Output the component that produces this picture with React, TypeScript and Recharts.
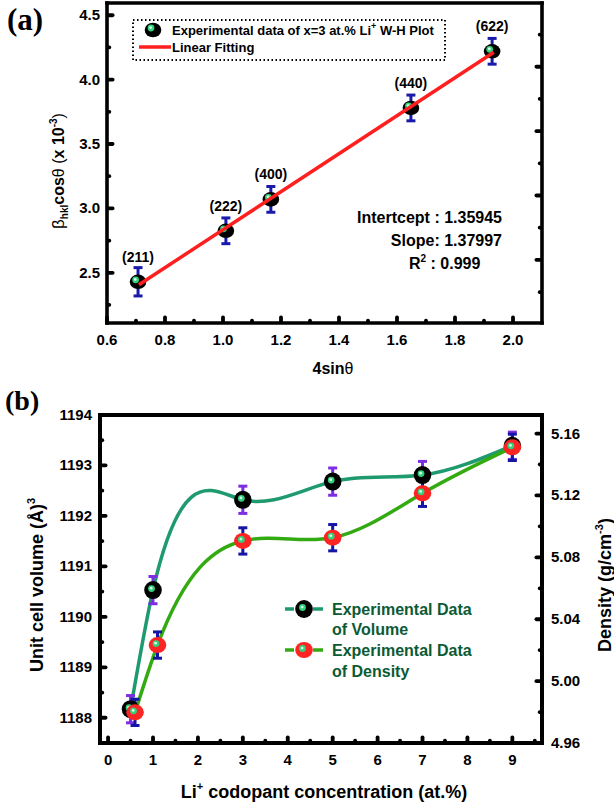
import React from 'react';
import { ComposedChart, Scatter, Line, XAxis, YAxis, ErrorBar, Legend, ReferenceDot } from 'recharts';

const FONT = '"Liberation Sans", Arial, sans-serif';

// ---------- Panel (a): Williamson-Hall plot ----------
const whHkl = ['(211)', '(222)', '(400)', '(440)', '(622)'];
const whX = [0.707, 1.01, 1.165, 1.648, 1.928];
const whY = [2.43, 2.826, 3.07, 3.78, 4.22];
const whErr = [0.11, 0.1, 0.1, 0.1, 0.1];
const fitX = [0.71, 1.934];
const fitY = [2.407, 4.213];
const aXDomain = [0.6, 2.1];
const aYDomain = [2.11, 4.595];
const aXMajor = [0.6, 0.8, 1.0, 1.2, 1.4, 1.6, 1.8, 2.0];
const aXMinor = [0.7, 0.9, 1.1, 1.3, 1.5, 1.7, 1.9];
const aTopMajor = [0.9, 1.2, 1.5, 1.8];
const aTopMinor = [0.75, 1.05, 1.35, 1.65, 1.95];
const aYMajor = [2.5, 3.0, 3.5, 4.0, 4.5];
const aYMinor = [2.25, 2.75, 3.25, 3.75, 4.25];
const aRMajor = [2.6, 3.1, 3.6, 4.1];
const aRMinor = [2.35, 2.85, 3.35, 3.85, 4.35];

// ---------- Panel (b): volume & density ----------
const volX = [0.5, 1, 3, 5, 7, 9];
const volY = [1188.17, 1190.53, 1192.32, 1192.68, 1192.81, 1193.39];
const volErr = [0.27, 0.27, 0.27, 0.27, 0.27, 0.27];
const denX = [0.6, 1.1, 3, 5, 7, 9];
const denY = [4.9798, 5.0233, 5.0906, 5.0927, 5.1214, 5.1511];
const denErr = [0.0085, 0.0085, 0.0085, 0.0085, 0.0085, 0.0085];
const bXDomain = [-0.18, 9.66];
const bLDomain = [1187.5, 1194];
const bRDomain = [4.96, 5.172];
const bXMajor = [0, 1, 2, 3, 4, 5, 6, 7, 8, 9];
const bXMinor = [0.5, 1.5, 2.5, 3.5, 4.5, 5.5, 6.5, 7.5, 8.5, 9.5];
const bLMajor = [1188, 1189, 1190, 1191, 1192, 1193, 1194];
const bLMinor = [1188.5, 1189.5, 1190.5, 1191.5, 1192.5, 1193.5];
const bRMajor = [4.96, 5.0, 5.04, 5.08, 5.12, 5.16];
const bRMinor = [4.98, 5.02, 5.06, 5.1, 5.14];

const whData = whX.map((x, i) => ({ x, y: whY[i], err: whErr[i], hkl: whHkl[i] }));
const fitData = fitX.map((x, i) => ({ x, y: fitY[i] }));
const volData = volX.map((x, i) => ({ x, y: volY[i], err: volErr[i] }));
const denData = denX.map((x, i) => ({ x, y: denY[i], err: denErr[i] }));

// natural cubic spline y(x) curve factory (d3-shape compatible)
function naturalX(context: any) {
  let xs: number[] = [];
  let ys: number[] = [];
  return {
    areaStart() {},
    areaEnd() {},
    lineStart() { xs = []; ys = []; },
    point(x: number, y: number) { xs.push(+x); ys.push(+y); },
    lineEnd() {
      const n = xs.length;
      if (n === 0) return;
      context.moveTo(xs[0], ys[0]);
      if (n === 1) return;
      if (n === 2) { context.lineTo(xs[1], ys[1]); return; }
      const h: number[] = [];
      const d: number[] = [];
      for (let i = 0; i < n - 1; i++) { h[i] = xs[i + 1] - xs[i]; d[i] = (ys[i + 1] - ys[i]) / h[i]; }
      const M = new Array(n).fill(0);
      const cp: number[] = [];
      const rp: number[] = [];
      for (let i = 1; i < n - 1; i++) {
        const a = h[i - 1], b = 2 * (h[i - 1] + h[i]), c = h[i], r = 6 * (d[i] - d[i - 1]);
        const den = b - (i > 1 ? a * cp[i - 1] : 0);
        cp[i] = c / den;
        rp[i] = (r - (i > 1 ? a * rp[i - 1] : 0)) / den;
      }
      for (let i = n - 2; i >= 1; i--) M[i] = rp[i] - cp[i] * M[i + 1];
      for (let i = 0; i < n - 1; i++) {
        const m0 = d[i] - (h[i] * (2 * M[i] + M[i + 1])) / 6;
        const m1 = d[i] + (h[i] * (M[i] + 2 * M[i + 1])) / 6;
        context.bezierCurveTo(
          xs[i] + h[i] / 3, ys[i] + (m0 * h[i]) / 3,
          xs[i + 1] - h[i] / 3, ys[i + 1] - (m1 * h[i]) / 3,
          xs[i + 1], ys[i + 1]
        );
      }
    },
  };
}

type Side = 'left' | 'right' | 'top' | 'bottom';

// value labels for the outer axes
function makeLabel(side: Side, fmt: (v: number) => string, fs = 15) {
  return (p: any) => {
    const x = Number(p.x);
    const y = Number(p.y);
    const v = Number(p.payload.value);
    let ty = y + 5;
    let anchor: any = 'middle';
    if (side === 'left') anchor = 'end';
    else if (side === 'right') anchor = 'start';
    else ty = y + 5.5;
    return (
      <text x={x} y={ty} textAnchor={anchor} fontFamily={FONT} fontWeight="bold" fontSize={fs} fill="#000" stroke="none">
        {fmt(v)}
      </text>
    );
  };
}

// inward tick mark shape, placed at an axis position by ReferenceDot
function markShape(side: Side, major: boolean) {
  return (p: any) => {
    const cx = Number(p.cx);
    const cy = Number(p.cy);
    if (!isFinite(cx) || !isFinite(cy)) return null;
    const len = major ? 7.5 : 4.2;
    const th = 3.8;
    let x = 0, y = 0, w = 0, h = 0;
    if (side === 'left') { x = cx; y = cy - th / 2; w = len; h = th; }
    else if (side === 'right') { x = cx - len; y = cy - th / 2; w = len; h = th; }
    else if (side === 'bottom') { x = cx - th / 2; y = cy - len; w = th; h = len; }
    else { x = cx - th / 2; y = cy; w = th; h = len; }
    return <rect x={x} y={y} width={w} height={h} rx={1.8} ry={1.8} fill="#000" />;
  };
}

function tickMarks(xId: string, yId: string, side: Side, majors: number[], minors: number[], fixed: number) {
  const all = [...majors.map((v) => [v, 1]), ...minors.map((v) => [v, 0])];
  return all.map(([v, mj]) => {
    const vertical = side === 'left' || side === 'right';
    return (
      <ReferenceDot key={`${xId}${yId}${side}${v}`} xAxisId={xId} yAxisId={yId}
        x={vertical ? fixed : v} y={vertical ? v : fixed} r={3} ifOverflow="visible"
        shape={markShape(side, mj === 1)} />
    );
  });
}

const axA = { stroke: '#000', strokeWidth: 3.6, strokeLinecap: 'square' as const };
const axB = { stroke: '#000', strokeWidth: 4, strokeLinecap: 'square' as const };

const Highlight = ({ cx, cy }: { cx: number; cy: number }) => (
  <g>
    <circle cx={cx} cy={cy} r={3.4} fill="#35d07c" />
    <circle cx={cx - 0.4} cy={cy - 0.4} r={1.4} fill="#d2fde6" />
  </g>
);

const WhMarker = (p: any) => {
  const { cx, cy, payload } = p;
  if (cx == null || cy == null) return null;
  return (
    <g>
      <ellipse cx={cx} cy={cy} rx={8.3} ry={7.3} fill="#000" />
      <Highlight cx={cx - 2.4} cy={cy - 2} />
      <text x={cx} y={cy - 20} textAnchor="middle" fontFamily={FONT} fontWeight="bold" fontSize={14} fill="#000">
        {payload.hkl}
      </text>
    </g>
  );
};

const VolMarker = (p: any) => {
  const { cx, cy } = p;
  if (cx == null || cy == null) return null;
  return (
    <g>
      <ellipse cx={cx} cy={cy} rx={8.8} ry={9} fill="#000" />
      <Highlight cx={cx - 1.5} cy={cy - 1.5} />
    </g>
  );
};

const DenMarker = (p: any) => {
  const { cx, cy } = p;
  if (cx == null || cy == null) return null;
  return (
    <g>
      <ellipse cx={cx} cy={cy} rx={8.8} ry={8} fill="#ff2424" />
      <Highlight cx={cx - 1.5} cy={cy - 1.5} />
    </g>
  );
};

const TopLegend = () => (
  <svg width={316} height={44} style={{ display: 'block' }}>
    <rect x={1} y={1} width={312} height={40} fill="none" stroke="#000" strokeWidth={2} strokeDasharray="1.5 2.5" />
    <ellipse cx={21} cy={11} rx={8.3} ry={7.3} fill="#000" />
    <Highlight cx={19} cy={9} />
    <text x={40} y={16} fontFamily={FONT} fontWeight="bold" fontSize={13} fill="#000">
      Experimental data of x=3 at.% Li<tspan fontSize={9} dy={-6}>+</tspan><tspan dy={6}> W-H Plot</tspan>
    </text>
    <line x1={7} y1={28} x2={39} y2={28} stroke="#ff1f1f" strokeWidth={3.5} />
    <text x={40} y={33} fontFamily={FONT} fontWeight="bold" fontSize={13} fill="#000">Linear Fitting</text>
  </svg>
);

const BottomLegend = () => (
  <svg width={210} height={92} style={{ display: 'block' }}>
    <line x1={5} y1={14} x2={14} y2={14} stroke="#1e9a6e" strokeWidth={3.5} />
    <line x1={33} y1={14} x2={43} y2={14} stroke="#1e9a6e" strokeWidth={3.5} />
    <ellipse cx={24} cy={14} rx={8.8} ry={9} fill="#000" />
    <Highlight cx={22.5} cy={12.5} />
    <text x={52} y={20} fontFamily={FONT} fontWeight="bold" fontSize={16} fill="#0b5a34">Experimental Data</text>
    <text x={52} y={40} fontFamily={FONT} fontWeight="bold" fontSize={16} fill="#0b5a34">of Volume</text>
    <line x1={5} y1={55} x2={14} y2={55} stroke="#33aa11" strokeWidth={3.5} />
    <line x1={33} y1={55} x2={43} y2={55} stroke="#33aa11" strokeWidth={3.5} />
    <ellipse cx={24} cy={55} rx={8.8} ry={8} fill="#ff2424" />
    <Highlight cx={22.5} cy={53.5} />
    <text x={52} y={61} fontFamily={FONT} fontWeight="bold" fontSize={16} fill="#0b5a34">Experimental Data</text>
    <text x={52} y={82} fontFamily={FONT} fontWeight="bold" fontSize={16} fill="#0b5a34">of Density</text>
  </svg>
);

const f1 = (v: number) => v.toFixed(1);
const f0 = (v: number) => String(v);
const f2 = (v: number) => v.toFixed(2);

export default function App() {
  return (
    <div style={{ position: 'absolute', left: 0, top: 0, width: 614, height: 807, background: '#fff', overflow: 'hidden' }}>
      <div style={{ position: 'absolute', left: 0, top: 0 }}>
        <ComposedChart width={614} height={380} margin={{ top: 1, right: 42, bottom: 17, left: 57 }}>
          <XAxis xAxisId="b" type="number" dataKey="x" domain={aXDomain} allowDataOverflow
            ticks={aXMajor} interval={0} tickSize={0} tickMargin={16} height={40}
            axisLine={axA} tickLine={false} tick={makeLabel('bottom', f1)} />
          <XAxis xAxisId="t" orientation="top" type="number" domain={aXDomain} allowDataOverflow
            ticks={aTopMajor} interval={0} tickSize={0} tickMargin={0} height={2}
            axisLine={axA} tickLine={false} tick={false} />
          <YAxis yAxisId="l" type="number" dataKey="y" domain={aYDomain} allowDataOverflow
            ticks={aYMajor} interval={0} tickSize={0} tickMargin={7} width={50}
            axisLine={axA} tickLine={false} tick={makeLabel('left', f1)} />
          <YAxis yAxisId="r" orientation="right" type="number" domain={aYDomain} allowDataOverflow
            ticks={aRMajor} interval={0} tickSize={0} tickMargin={0} width={30}
            axisLine={axA} tickLine={false} tick={false} />
          {tickMarks('b', 'l', 'bottom', aXMajor, aXMinor, aYDomain[0])}
          {tickMarks('t', 'l', 'top', aTopMajor, aTopMinor, aYDomain[1])}
          {tickMarks('b', 'l', 'left', aYMajor, aYMinor, aXDomain[0])}
          {tickMarks('b', 'r', 'right', aRMajor, aRMinor, aXDomain[1])}
          <Scatter xAxisId="b" yAxisId="l" data={whData} dataKey="y" shape={WhMarker} isAnimationActive={false}>
            <ErrorBar dataKey="err" direction="y" width={4.5} strokeWidth={3} stroke="#1a1aaa" />
          </Scatter>
          <Line xAxisId="b" yAxisId="l" data={fitData} dataKey="y" type="linear" stroke="#ff1f1f"
            strokeWidth={3.5} dot={false} activeDot={false} isAnimationActive={false} zIndex={700} />
          <Legend layout="horizontal" verticalAlign="middle" align="center" content={() => <TopLegend />}
            wrapperStyle={{ left: 132, top: 19, width: 316, height: 44 }} />
        </ComposedChart>
      </div>
      <div style={{ position: 'absolute', left: 0, top: 380 }}>
        <ComposedChart width={614} height={427} margin={{ top: 33, right: 22, bottom: 24, left: 50 }}>
          <XAxis xAxisId="b" type="number" dataKey="x" domain={bXDomain} allowDataOverflow
            ticks={bXMajor} interval={0} tickSize={0} tickMargin={16} height={40}
            axisLine={axB} tickLine={false} tick={makeLabel('bottom', f0)} />
          <XAxis xAxisId="t" orientation="top" type="number" domain={bXDomain} allowDataOverflow
            ticks={bXMajor} interval={0} tickSize={0} tickMargin={0} height={2}
            axisLine={axB} tickLine={false} tick={false} />
          <YAxis yAxisId="l" type="number" dataKey="y" domain={bLDomain} allowDataOverflow
            ticks={bLMajor} interval={0} tickSize={0} tickMargin={8} width={50}
            axisLine={axB} tickLine={false} tick={makeLabel('left', f0)} />
          <YAxis yAxisId="r" orientation="right" type="number" dataKey="y" domain={bRDomain} allowDataOverflow
            ticks={bRMajor} interval={0} tickSize={0} tickMargin={9} width={50}
            axisLine={axB} tickLine={false} tick={makeLabel('right', f2)} />
          {tickMarks('b', 'l', 'bottom', bXMajor, bXMinor, bLDomain[0])}
          {tickMarks('t', 'l', 'top', bXMajor, bXMinor, bLDomain[1])}
          {tickMarks('b', 'l', 'left', bLMajor, bLMinor, bXDomain[0])}
          {tickMarks('b', 'r', 'right', bRMajor, bRMinor, bXDomain[1])}
          <Line xAxisId="b" yAxisId="l" data={volData} dataKey="y" type={naturalX as any} stroke="#1e9a6e"
            strokeWidth={3.5} dot={false} activeDot={false} isAnimationActive={false} />
          <Line xAxisId="b" yAxisId="r" data={denData} dataKey="y" type={naturalX as any} stroke="#33aa11"
            strokeWidth={3.5} dot={false} activeDot={false} isAnimationActive={false} />
          <Scatter xAxisId="b" yAxisId="l" data={volData} dataKey="y" shape={VolMarker} isAnimationActive={false}>
            <ErrorBar dataKey="err" direction="y" width={4.5} strokeWidth={3} stroke="#7d2ee0" />
          </Scatter>
          <Scatter xAxisId="b" yAxisId="r" data={denData} dataKey="y" shape={DenMarker} isAnimationActive={false}>
            <ErrorBar dataKey="err" direction="y" width={4.5} strokeWidth={3} stroke="#1515a5" />
          </Scatter>
          <Legend layout="horizontal" verticalAlign="middle" align="center" content={() => <BottomLegend />}
            wrapperStyle={{ left: 280, top: 215, width: 210, height: 92 }} />
        </ComposedChart>
      </div>
      <svg width={614} height={807} style={{ position: 'absolute', left: 0, top: 0, pointerEvents: 'none' }}>
        <text x={7} y={30} fontFamily='"Liberation Serif", "Times New Roman", serif' fontWeight="bold" fontSize={31}>(a)</text>
        <text x={5} y={410} fontFamily='"Liberation Serif", "Times New Roman", serif' fontWeight="bold" fontSize={28}>(b)</text>
        <text x={64} y={171} transform="rotate(-90 64 171)" textAnchor="middle" fontFamily={FONT} fontWeight="bold" fontSize={16}>
          <tspan fontWeight="normal" fontSize={17}>β</tspan>
          <tspan fontSize={10} dy={4}>hkl</tspan>
          <tspan dy={-4}>cos</tspan>
          <tspan fontWeight="normal">θ (</tspan>
          <tspan>x 10</tspan>
          <tspan fontSize={10} dy={-7}>-3</tspan>
          <tspan dy={7} fontWeight="normal">)</tspan>
        </text>
        <text x={333} y={374} textAnchor="middle" fontFamily={FONT} fontWeight="bold" fontSize={16}>
          4sin<tspan fontWeight="normal">θ</tspan>
        </text>
        <text x={502} y={223} textAnchor="end" fontFamily={FONT} fontWeight="bold" fontSize={16}>Intertcept : 1.35945</text>
        <text x={502} y={246} textAnchor="end" fontFamily={FONT} fontWeight="bold" fontSize={16}>Slope: 1.37997</text>
        <text x={409} y={269} fontFamily={FONT} fontWeight="bold" fontSize={16}>
          R<tspan fontSize={10} dy={-7}>2</tspan><tspan dy={7}> : 0.999</tspan>
        </text>
        <text x={43} y={585} transform="rotate(-90 43 585)" textAnchor="middle" fontFamily={FONT} fontWeight="bold" fontSize={18}>
          Unit cell volume (Å)<tspan fontSize={11} dy={-8}>3</tspan>
        </text>
        <text x={611} y={585} transform="rotate(-90 611 585)" textAnchor="middle" fontFamily={FONT} fontWeight="bold" fontSize={18}>
          Density (g/cm<tspan fontSize={11} dy={-8}>-3</tspan><tspan dy={8}>)</tspan>
        </text>
        <text x={324} y={798} textAnchor="middle" fontFamily={FONT} fontWeight="bold" fontSize={18}>
          Li<tspan fontSize={11} dy={-8}>+</tspan><tspan dy={8}> codopant concentration (at.%)</tspan>
        </text>
      </svg>
    </div>
  );
}
